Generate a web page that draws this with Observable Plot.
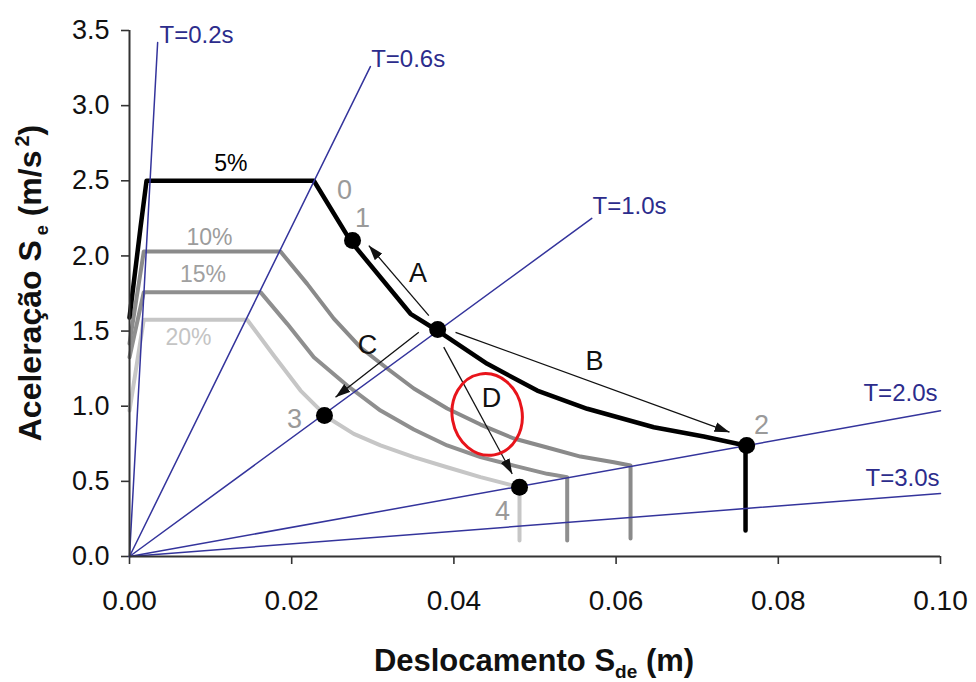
<!DOCTYPE html>
<html>
<head>
<meta charset="utf-8">
<script src="https://cdn.jsdelivr.net/npm/d3@7"></script>
<script src="https://cdn.jsdelivr.net/npm/@observablehq/plot@0.6"></script>
<style>
  html, body { margin: 0; padding: 0; background: #fff; }
  #chart svg { display: block; }
</style>
</head>
<body>
<div id="chart"></div>
<script>
// ---- Data ----
const xTicks = [0, 0.02, 0.04, 0.06, 0.08, 0.10];
const yTicks = [0, 0.5, 1.0, 1.5, 2.0, 2.5, 3.0, 3.5];

// Demand spectra (ADRS) for several damping ratios
const dampingLabels = ["5%", "10%", "15%", "20%"];
const sd5  = [0, 0.00136, 0.0021, 0.02273, 0.02725, 0.03465, 0.03794, 0.04411, 0.05027, 0.05644, 0.06465, 0.07081, 0.07596, 0.07596];
const sa5  = [1.59, 2.19, 2.50, 2.50, 2.10, 1.615, 1.504, 1.282, 1.104, 0.983, 0.860, 0.798, 0.739, 0.173];
const sd10 = [0, 0.00176, 0.01862, 0.02191, 0.02519, 0.02848, 0.03178, 0.03506, 0.03917, 0.04328, 0.04739, 0.05150, 0.05561, 0.05972, 0.06178, 0.06178];
const sa10 = [1.417, 2.029, 2.029, 1.814, 1.583, 1.391, 1.251, 1.118, 0.985, 0.878, 0.785, 0.725, 0.665, 0.627, 0.605, 0.120];
const sd15 = [0, 0.00176, 0.01615, 0.01945, 0.02273, 0.02684, 0.03095, 0.03506, 0.03917, 0.04328, 0.04739, 0.05150, 0.05397, 0.05397];
const sa15 = [1.326, 1.759, 1.759, 1.548, 1.326, 1.138, 0.971, 0.845, 0.739, 0.661, 0.605, 0.550, 0.528, 0.106];
const sd20 = [0, 0.00176, 0.01451, 0.01779, 0.02109, 0.02438, 0.02766, 0.03095, 0.03506, 0.03917, 0.04328, 0.04809, 0.04809];
const sa20 = [0.971, 1.575, 1.575, 1.337, 1.104, 0.927, 0.816, 0.739, 0.661, 0.594, 0.528, 0.461, 0.106];

// Constant-period radial lines (from origin to their end)
const periodLabels = ["T=0.2s", "T=0.6s", "T=1.0s", "T=2.0s", "T=3.0s"];
const periodEndSd  = [0.00347, 0.0297, 0.0570, 0.100, 0.100];
const periodEndSa  = [3.42, 3.26, 2.25, 0.97, 0.42];
const periodLabelSd = [0.0037, 0.0298, 0.05709, 0.0905, 0.09075];
const periodLabelSa = [3.415, 3.256, 2.280, 1.038, 0.472];

// Performance points
const pointNames = ["1", "A", "2", "3", "4"];
const pointSd = [0.0275, 0.0380, 0.0761, 0.02404, 0.04809];
const pointSa = [2.102, 1.510, 0.739, 0.938, 0.461];

// Point number labels
const numLabels = ["0", "1", "2", "3", "4"];
const numLabelSd = [0.02651, 0.02873, 0.07793, 0.02035, 0.04599];
const numLabelSa = [2.380, 2.191, 0.818, 0.852, 0.246];

// Arrows A-D
const arrowNames = ["A", "B", "C", "D"];
const arrowSd1 = [0.03691, 0.0402, 0.03567, 0.03875];
const arrowSa1 = [1.603, 1.492, 1.492, 1.393];
const arrowSd2 = [0.02951, 0.07399, 0.0254, 0.04719];
const arrowSa2 = [2.069, 0.827, 1.060, 0.550];
const arrowLabelSd = [0.03557, 0.05734, 0.02935, 0.04464];
const arrowLabelSa = [1.825, 1.238, 1.349, 0.993];

// Damping labels positions
const dampLabelSd = [0.01251, 0.00986, 0.00906, 0.00727];
const dampLabelSa = [2.564, 2.076, 1.825, 1.404];

// Highlight ellipse centre
const highlightSd = [0.0441];
const highlightSa = [0.945];

// ---- Build tables ----
const toRows = (xs, ys) => xs.map((x, i) => ({x, y: ys[i]}));
const s5 = toRows(sd5, sa5), s10 = toRows(sd10, sa10), s15 = toRows(sd15, sa15), s20 = toRows(sd20, sa20);
const periodRows = periodLabels.flatMap((t, i) => [{t, x: 0, y: 0}, {t, x: periodEndSd[i], y: periodEndSa[i]}]);
const periodText = periodLabels.map((t, i) => ({t, x: periodLabelSd[i], y: periodLabelSa[i]}));
const points = pointNames.map((n, i) => ({n, x: pointSd[i], y: pointSa[i]}));
const numText = numLabels.map((n, i) => ({n, x: numLabelSd[i], y: numLabelSa[i]}));
const arrows = arrowNames.map((n, i) => ({n, x1: arrowSd1[i], y1: arrowSa1[i], x2: arrowSd2[i], y2: arrowSa2[i]}));
const arrowText = arrowNames.map((n, i) => ({n, x: arrowLabelSd[i], y: arrowLabelSa[i]}));
const dampText = dampingLabels.map((n, i) => ({n, x: dampLabelSd[i], y: dampLabelSa[i]}));
const highlight = highlightSd.map((x, i) => ({x, y: highlightSa[i]}));

const navy = "#34349c";
const navyText = "#2c2c8c";
const dampColors = ["#000000", "#8a8a8a", "#8f8f8f", "#c6c6c6"];
const dampTextColors = ["#000000", "#9c9c9c", "#a0a0a0", "#c4c4c4"];

const lineOpts = {x: "x", y: "y", strokeLinejoin: "round", strokeLinecap: "round"};

const plot = Plot.plot({
  width: 976,
  height: 682,
  marginLeft: 129,
  marginRight: 36,
  marginTop: 30,
  marginBottom: 126,
  style: {fontFamily: "'Liberation Sans', Arial, sans-serif", background: "#fff", overflow: "visible"},
  x: {domain: [0, 0.10], label: null},
  y: {domain: [0, 3.5], label: null},
  marks: [
    Plot.axisX(xTicks, {tickFormat: d3.format(".2f"), tickSize: 8, tickPadding: 26, fontSize: 28, label: null, stroke: "#333", strokeWidth: 1.6, fill: "#111"}),
    Plot.axisY(yTicks, {tickFormat: d3.format(".1f"), tickSize: 8, tickPadding: 12, fontSize: 27, label: null, stroke: "#333", strokeWidth: 1.6, fill: "#111"}),
    Plot.line(s20, {...lineOpts, stroke: dampColors[3], strokeWidth: 4}),
    Plot.line(s15, {...lineOpts, stroke: dampColors[2], strokeWidth: 4}),
    Plot.line(s10, {...lineOpts, stroke: dampColors[1], strokeWidth: 4}),
    Plot.line(s5,  {...lineOpts, stroke: dampColors[0], strokeWidth: 4.5}),
    Plot.line(periodRows, {x: "x", y: "y", z: "t", stroke: navy, strokeWidth: 1.5}),
    Plot.ruleX([0], {stroke: "#333", strokeWidth: 2}),
    Plot.ruleY([0], {stroke: "#333", strokeWidth: 2}),
    Plot.link(arrows, {x1: "x1", y1: "y1", x2: "x2", y2: "y2", stroke: "#111", strokeWidth: 1.3}),
    Plot.dot(points, {x: "x", y: "y", r: 8.5, fill: "#000"}),
    Plot.text(periodText, {x: "x", y: "y", text: "t", textAnchor: "start", lineAnchor: "bottom", fontSize: 24, fill: navyText}),
    Plot.text(dampText, {x: "x", y: "y", text: "n", lineAnchor: "bottom", fontSize: 23, fill: (d) => dampTextColors[dampingLabels.indexOf(d.n)]}),
    Plot.text(numText, {x: "x", y: "y", text: "n", lineAnchor: "bottom", fontSize: 27, fill: "#9a9a9a"}),
    Plot.text(arrowText, {x: "x", y: "y", text: "n", lineAnchor: "bottom", fontSize: 27, fill: "#111"}),
    Plot.dot(highlight, {x: "x", y: "y", r: 38, stroke: "#e8141b", strokeWidth: 3, fill: "none"})
  ]
});

document.getElementById("chart").appendChild(plot);

// ---- Post-processing: filled arrowheads, ellipse shape, rich axis titles ----
const svg = d3.select(plot);
const defs = svg.append("defs");
defs.append("marker")
  .attr("id", "ahead")
  .attr("viewBox", "0 -5 15 10")
  .attr("refX", 15).attr("refY", 0)
  .attr("markerWidth", 15).attr("markerHeight", 10)
  .attr("markerUnits", "userSpaceOnUse")
  .attr("orient", "auto")
  .append("path").attr("d", "M0,-5L15,0L0,5Z").attr("fill", "#111");
svg.selectAll('g[aria-label="link"] path, g[aria-label="link"] line').attr("marker-end", "url(#ahead)");

svg.selectAll("circle").filter(function() { return +this.getAttribute("r") === 38; }).each(function() {
  const c = d3.select(this);
  const cx = +c.attr("cx") || 0, cy = +c.attr("cy") || 0;
  const t = c.attr("transform") || "";
  c.attr("transform", `${t} translate(${cx},${cy}) rotate(-10) scale(${35/38},${41/38}) translate(${-cx},${-cy})`)
   .attr("vector-effect", "non-scaling-stroke");
});

// x title
const xt = svg.append("text")
  .attr("x", 534).attr("y", 671)
  .attr("text-anchor", "middle")
  .attr("font-family", "'Liberation Sans', Arial, sans-serif")
  .attr("font-weight", "bold").attr("font-size", 31).attr("fill", "#111");
xt.append("tspan").text("Deslocamento S");
xt.append("tspan").attr("font-size", 19).attr("dy", 7).text("de");
xt.append("tspan").attr("dy", -7).text(" (m)");

// y title
const yt = svg.append("text")
  .attr("transform", "translate(41,283) rotate(-90)")
  .attr("text-anchor", "middle")
  .attr("font-family", "'Liberation Sans', Arial, sans-serif")
  .attr("font-weight", "bold").attr("font-size", 32).attr("fill", "#111");
yt.append("tspan").text("Aceleração S");
yt.append("tspan").attr("font-size", 18).attr("dx", 5).attr("dy", 7).text("e");
yt.append("tspan").attr("dy", -7).text(" (m/s");
yt.append("tspan").attr("font-size", 20).attr("dx", 4).attr("dy", -12).text("2");
yt.append("tspan").attr("dy", 12).text(")");
</script>
</body>
</html>
